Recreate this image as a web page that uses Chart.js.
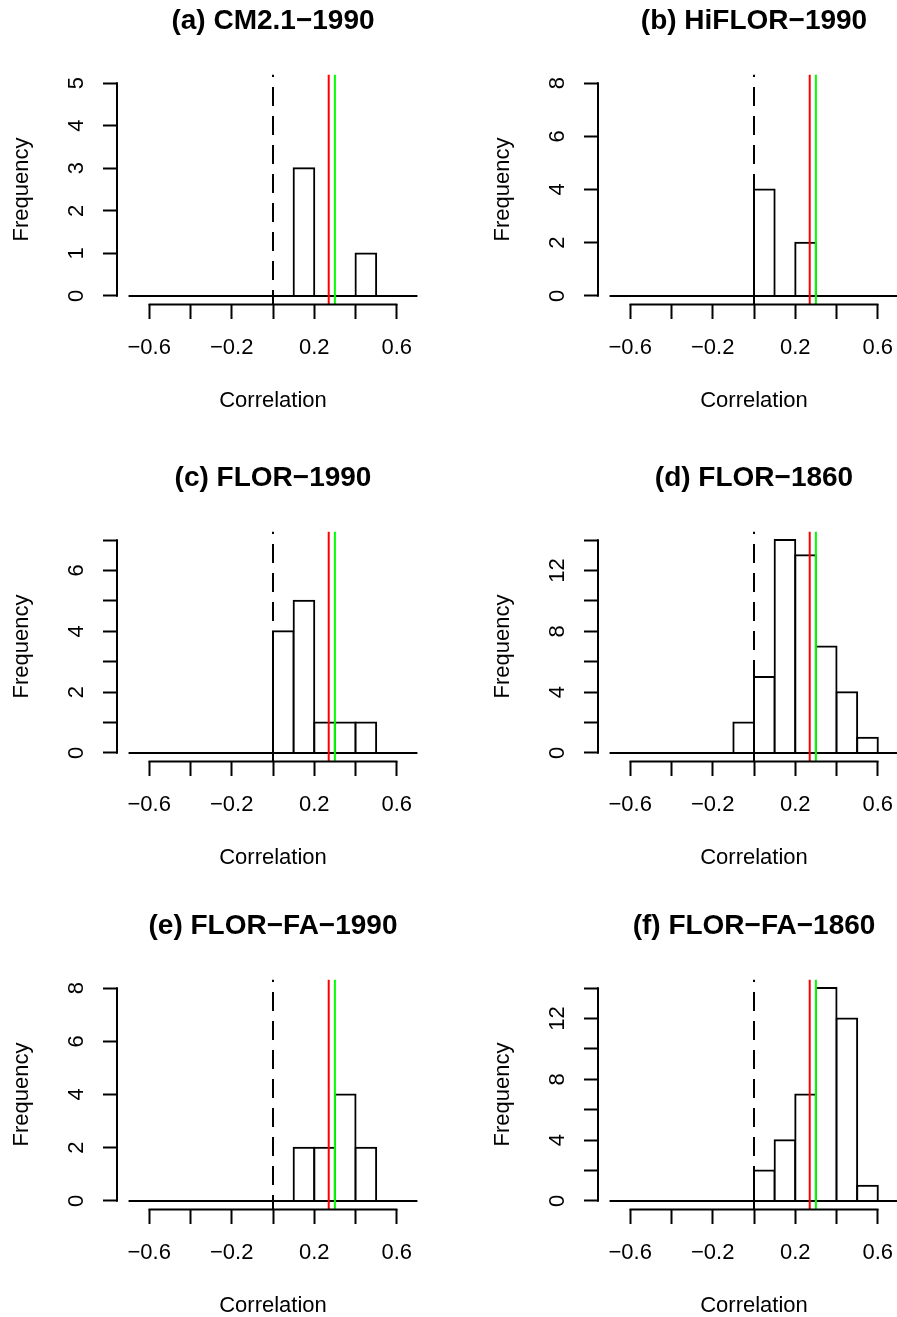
<!DOCTYPE html>
<html>
<head>
  <title>Correlation histograms</title>
  <style>
    html, body {
      margin: 0;
      padding: 0;
      background: #fff;
      overflow: hidden;
    }
    body {
      position: relative;
      width: 897px;
      height: 1317px;
    }
    canvas {
      position: absolute;
    }
  </style>
</head>
<body>
  <canvas id="panelA" width="449" height="420" style="left:0px; top:0px"></canvas>
  <canvas id="panelB" width="449" height="420" style="left:481px; top:0px"></canvas>
  <canvas id="panelC" width="449" height="420" style="left:0px; top:457px"></canvas>
  <canvas id="panelD" width="449" height="420" style="left:481px; top:457px"></canvas>
  <canvas id="panelE" width="449" height="420" style="left:0px; top:905px"></canvas>
  <canvas id="panelF" width="449" height="420" style="left:481px; top:905px"></canvas>

  <script src="https://cdn.jsdelivr.net/npm/chart.js"></script>
  <script>
    // histogram bins, 0.1 wide from -0.7 to 0.7
    const binEdges = [-0.7, -0.6, -0.5, -0.4, -0.3, -0.2, -0.1, 0, 0.1, 0.2, 0.3, 0.4, 0.5, 0.6, 0.7];

    const titles = ['(a) CM2.1−1990', '(b) HiFLOR−1990', '(c) FLOR−1990',
                    '(d) FLOR−1860', '(e) FLOR−FA−1990', '(f) FLOR−FA−1860'];

    const countsA = [0, 0, 0, 0, 0, 0, 0, 0, 3, 0, 0, 1, 0, 0];
    const countsB = [0, 0, 0, 0, 0, 0, 0, 4, 0, 2, 0, 0, 0, 0];
    const countsC = [0, 0, 0, 0, 0, 0, 0, 4, 5, 1, 1, 1, 0, 0];
    const countsD = [0, 0, 0, 0, 0, 0, 2, 5, 14, 13, 7, 4, 1, 0];
    const countsE = [0, 0, 0, 0, 0, 0, 0, 0, 2, 2, 4, 2, 0, 0];
    const countsF = [0, 0, 0, 0, 0, 0, 0, 2, 4, 7, 14, 12, 1, 0];

    // y axis ticks (last one is the top of the y range) and their labels
    const yTicksA = [0, 1, 2, 3, 4, 5];
    const yLabelsA = ['0', '1', '2', '3', '4', '5'];
    const yTicksB = [0, 2, 4, 6, 8];
    const yLabelsB = ['0', '2', '4', '6', '8'];
    const yTicksC = [0, 1, 2, 3, 4, 5, 6, 7];
    const yLabelsC = ['0', '', '2', '', '4', '', '6', ''];
    const yTicksD = [0, 2, 4, 6, 8, 10, 12, 14];
    const yLabelsD = ['0', '', '4', '', '8', '', '12', ''];
    const yTicksE = [0, 2, 4, 6, 8];
    const yLabelsE = ['0', '2', '4', '6', '8'];
    const yTicksF = [0, 2, 4, 6, 8, 10, 12, 14];
    const yLabelsF = ['0', '', '4', '', '8', '', '12', ''];

    const xTickValues = [-0.6, -0.4, -0.2, 0, 0.2, 0.4, 0.6];
    const xTickLabels = ['−0.6', '', '−0.2', '', '0.2', '', '0.6'];

    // reference lines: zero (dashed), red and green markers
    const zeroLine = 0;
    const redLine = 0.27;
    const greenLine = 0.30;

    const FONT = '"Liberation Sans", Arial, Helvetica, sans-serif';
    Chart.defaults.font.family = FONT;
    Chart.defaults.color = '#000';

    // y tick labels are rotated and centred; keep their middle at a fixed distance from the axis
    const measureCtx = document.createElement('canvas').getContext('2d');
    measureCtx.font = '22px ' + FONT;
    function yLabelPadding(labels) {
      const widest = Math.max(...labels.map(l => measureCtx.measureText(l).width));
      return 26 - widest / 2;
    }

    // R style axis lines: only from the first to the last tick
    const rAxes = {
      id: 'rAxes',
      afterDatasetsDraw(chart) {
        const {ctx, chartArea, scales: {x, y}} = chart;
        ctx.save();
        ctx.strokeStyle = '#000';
        ctx.lineWidth = 2;
        ctx.lineCap = 'round';
        ctx.beginPath();
        ctx.moveTo(x.getPixelForValue(x.ticks[0].value), chartArea.bottom);
        ctx.lineTo(x.getPixelForValue(x.ticks[x.ticks.length - 1].value), chartArea.bottom);
        ctx.moveTo(chartArea.left, y.getPixelForValue(y.ticks[0].value));
        ctx.lineTo(chartArea.left, y.getPixelForValue(y.ticks[y.ticks.length - 1].value));
        ctx.stroke();
        ctx.restore();
      }
    };

    function vline(value, color, yMin, yMax, order, dash) {
      return {
        type: 'line',
        data: [{x: value, y: yMax}, {x: value, y: yMin}],
        borderColor: color,
        borderWidth: 2,
        borderDash: dash || [],
        borderDashOffset: dash ? 16.5 : 0,
        pointRadius: 0,
        pointHoverRadius: 0,
        fill: false,
        order: order
      };
    }

    function makePanel(id, title, counts, yTicks, yLabels) {
      const xSpan = binEdges[binEdges.length - 1] - binEdges[0];
      const xMin = binEdges[0] - 0.04 * xSpan;
      const xMax = binEdges[binEdges.length - 1] + 0.04 * xSpan;
      const yTop = yTicks[yTicks.length - 1];
      const yMin = -0.04 * yTop;
      const yMax = 1.04 * yTop;

      const bars = counts.map((c, i) => ({x: (binEdges[i] + binEdges[i + 1]) / 2, y: c}));

      new Chart(document.getElementById(id), {
        type: 'bar',
        data: {
          datasets: [
            {
              type: 'bar',
              data: bars,
              backgroundColor: '#fff',
              borderColor: '#000',
              borderWidth: 2,
              inflateAmount: 1,
              barPercentage: 1,
              categoryPercentage: 1,
              order: 4
            },
            {
              type: 'line',
              data: [{x: binEdges[0], y: 0}, {x: binEdges[binEdges.length - 1], y: 0}],
              borderColor: '#000',
              borderWidth: 2,
              pointRadius: 0,
              pointHoverRadius: 0,
              fill: false,
              order: 3
            },
            vline(zeroLine, '#000', yMin, yMax, 2, [19, 10]),
            vline(redLine, '#ff0000', yMin, yMax, 1),
            vline(greenLine, '#00ff00', yMin, yMax, 0)
          ]
        },
        options: {
          responsive: false,
          animation: false,
          events: [],
          layout: {padding: {left: 0, right: 20, top: 0, bottom: 0}},
          plugins: {
            legend: {display: false},
            tooltip: {enabled: false},
            title: {
              display: true,
              text: title,
              fullSize: false,
              color: '#000',
              font: {size: 28, weight: 'bold'},
              padding: {top: 4, bottom: 36.9}
            }
          },
          scales: {
            x: {
              type: 'linear',
              position: 'bottom',
              bounds: 'data',
              offset: false,
              min: xMin,
              max: xMax,
              afterBuildTicks: s => { s.ticks = xTickValues.map(v => ({value: v})); },
              afterFit: s => { s.height = 115.5; },
              ticks: {
                autoSkip: false,
                minRotation: 0,
                maxRotation: 0,
                padding: 15.5,
                color: '#000',
                font: {size: 22},
                callback: (v, i) => xTickLabels[i]
              },
              grid: {
                display: true,
                offset: false,
                drawOnChartArea: false,
                drawTicks: true,
                tickLength: 14.5,
                tickWidth: 2,
                tickColor: '#000'
              },
              border: {display: false},
              title: {
                display: true,
                text: 'Correlation',
                color: '#000',
                font: {size: 22},
                padding: {top: 0, bottom: 5.4}
              }
            },
            y: {
              type: 'linear',
              position: 'left',
              bounds: 'data',
              min: yMin,
              max: yMax,
              afterBuildTicks: s => { s.ticks = yTicks.map(v => ({value: v})); },
              afterFit: s => { s.width = 117; },
              ticks: {
                autoSkip: false,
                minRotation: 90,
                maxRotation: 90,
                crossAlign: 'center',
                padding: yLabelPadding(yLabels),
                color: '#000',
                font: {size: 22},
                callback: (v, i) => yLabels[i]
              },
              grid: {
                display: true,
                drawOnChartArea: false,
                drawTicks: true,
                tickLength: 14,
                tickWidth: 2,
                tickColor: '#000'
              },
              border: {display: false},
              title: {
                display: true,
                text: 'Frequency',
                color: '#000',
                font: {size: 22},
                padding: {top: 8.3, bottom: 0}
              }
            }
          }
        },
        plugins: [rAxes]
      });
    }

    makePanel('panelA', titles[0], countsA, yTicksA, yLabelsA);
    makePanel('panelB', titles[1], countsB, yTicksB, yLabelsB);
    makePanel('panelC', titles[2], countsC, yTicksC, yLabelsC);
    makePanel('panelD', titles[3], countsD, yTicksD, yLabelsD);
    makePanel('panelE', titles[4], countsE, yTicksE, yLabelsE);
    makePanel('panelF', titles[5], countsF, yTicksF, yLabelsF);
  </script>
</body>
</html>
